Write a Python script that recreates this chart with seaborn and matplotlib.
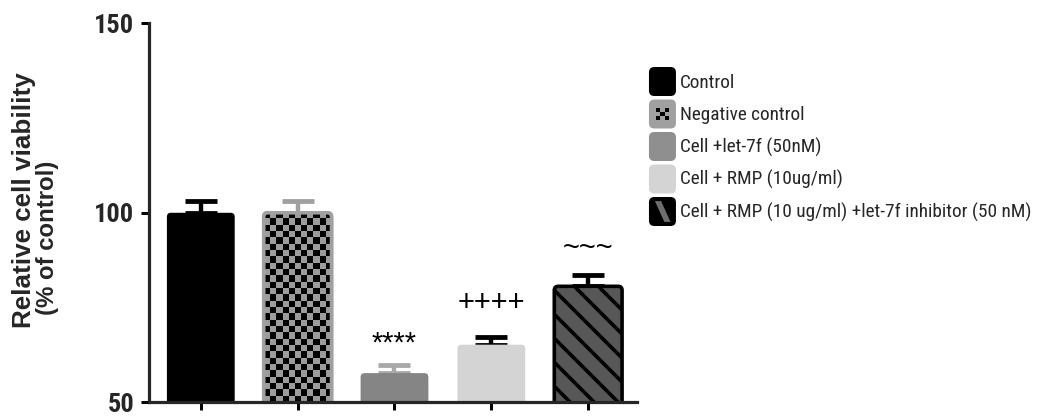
import numpy as np
import pandas as pd
import matplotlib
matplotlib.use("Agg")
import matplotlib.pyplot as plt
import seaborn as sns
from matplotlib import font_manager as fm
from matplotlib.font_manager import FontProperties
from matplotlib.patches import FancyBboxPatch, Rectangle, Polygon
from matplotlib.colors import ListedColormap
from matplotlib.legend_handler import HandlerBase

# ---- data -------------------------------------------------------------
groups = [
    "Control",
    "Negative control",
    "Cell +let-7f (50nM)",
    "Cell + RMP (10ug/ml)",
    "Cell + RMP (10 ug/ml) +let-7f inhibitor (50 nM)",
]
viability = [100.0, 100.0, 57.7, 65.2, 80.6]   # mean, % of control
sem = [3.2, 3.2, 2.1, 2.1, 3.0]                # upper error
marks = ["", "", "****", "++++", "~~~"]        # significance symbols
y_ticks = [50, 100, 150]

# ---- styling ----------------------------------------------------------
fill_colors = ["#000000", "#a0a0a0", "#858585", "#d4d4d4", "#575757"]
edge_colors = ["none", "#a0a0a0", "none", "none", "#000000"]
err_colors = ["#000000", "#a0a0a0", "#a9a9a9", "#000000", "#000000"]
mark_gap = [0, 0, 3.6, 6.9, 5.1]


def pick_font(*names):
    have = {f.name for f in fm.fontManager.ttflist}
    for n in names:
        if n in have:
            return n
    return "DejaVu Sans"


def narrow_props(regular):
    """A condensed sans face if one is installed, else the regular one."""
    entries = fm.fontManager.ttflist
    names = {e.name for e in entries}
    for n in ("Liberation Sans Narrow", "Arial Narrow", "Roboto Condensed",
              "Open Sans Condensed", "Noto Sans Condensed",
              "DejaVu Sans Condensed"):
        if n in names:
            return {"family": n}
    for fam in ("Noto Sans", "Open Sans", "Roboto", "DejaVu Sans"):
        for e in entries:
            if e.name == fam and e.stretch in ("condensed", "semi-condensed"):
                return {"family": fam, "stretch": e.stretch}
    return {"family": regular}


sns.set_style("ticks")
REG = pick_font("Liberation Sans", "Arial", "DejaVu Sans")
NARROW = narrow_props(REG)
plt.rcParams["font.family"] = [REG, "DejaVu Sans"]
plt.rcParams["hatch.linewidth"] = 1.8

DPI = 144
fig = plt.figure(figsize=(1038 / DPI, 418 / DPI), dpi=DPI)
renderer = fig.canvas.get_renderer()


def fit_size(text, target_px, max_pt, **props):
    """Largest size (<= max_pt) at which text is at most target_px wide."""
    t = fig.text(0, 0, text, fontproperties=FontProperties(size=10, **props))
    w = t.get_window_extent(renderer).width
    t.remove()
    return min(max_pt, 10 * target_px / w)


legend_pt = fit_size(groups[-1], 352, 10.5, **NARROW)
tick_pt = fit_size("150", 40, 14, weight="bold", **NARROW)

ax = fig.add_axes([0.144, 0.0376, 0.4693, 0.9067])

df = pd.DataFrame({"group": groups, "viability": viability})
sns.barplot(data=df, x="group", y="viability", hue="group",
            palette=fill_colors, width=0.7, saturation=1,
            errorbar=None, legend=False, ax=ax)

ax.set_ylim(50, 150)
ax.set_xlim(-0.53, 4.5)

# pixel scale of each data unit, used for round corners and the checker cells
p0 = ax.transData.transform((0, 50))
p1 = ax.transData.transform((1, 51))
ppx, ppy = p1[0] - p0[0], p1[1] - p0[1]
aspect = ppx / ppy
r_x = 4.0 / ppx

bar_rects = list(ax.patches)
swatches = []
for i, rect in enumerate(bar_rects):
    x, y, w, h = rect.get_x(), rect.get_y(), rect.get_width(), rect.get_height()
    rect.remove()
    ec = edge_colors[i]
    lw = 1.8 if ec != "none" else 0
    patch = FancyBboxPatch((x, y), w, h,
                           boxstyle=f"round,pad=0,rounding_size={r_x}",
                           mutation_aspect=aspect,
                           facecolor=fill_colors[i], edgecolor=ec,
                           linewidth=lw, zorder=2,
                           hatch="\\\\" if i == 4 else None)
    ax.add_patch(patch)
    swatches.append(patch)
    if i == 1:
        lo, hi = ax.get_ylim()[0], y + h
        cell = 6.3
        ncol = max(1, int(round(w * ppx / cell)))
        nrow = max(1, int(round((hi - lo) * ppy / cell)))
        grid = np.add.outer(np.arange(nrow), np.arange(ncol)) % 2
        img = ax.imshow(grid, extent=(x, x + w, lo, hi), origin="upper",
                        cmap=ListedColormap(["#000000", "#9c9c9c"]),
                        interpolation="nearest", aspect="auto", zorder=2.2)
        img.set_clip_path(patch)
        rim = FancyBboxPatch((x, y), w, h,
                             boxstyle=f"round,pad=0,rounding_size={r_x}",
                             mutation_aspect=aspect, facecolor="none",
                             edgecolor=ec, linewidth=lw, zorder=2.4)
        ax.add_patch(rim)

# upper error bars
for i, (m, e) in enumerate(zip(viability, sem)):
    ax.errorbar(i, m, yerr=[[0], [e]], fmt="none", ecolor=err_colors[i],
                elinewidth=2.2, capsize=8, capthick=2.4, zorder=1.5)

# significance symbols
for i, (m, e, s) in enumerate(zip(viability, sem, marks)):
    if s:
        ax.text(i, m + e + mark_gap[i], s, ha="center", va="baseline",
                fontsize=14.5, family=REG, color="black")

ax.set_ylim(50, 150)
ax.set_xlim(-0.53, 4.5)
ax.set_xticks(range(len(groups)))
ax.set_xticklabels([""] * len(groups))
ax.set_yticks(y_ticks)
ax.set_xlabel("")
ax.set_ylabel("")
sns.despine(ax=ax)
for side in ("left", "bottom"):
    ax.spines[side].set_linewidth(1.6)
ax.tick_params(axis="both", direction="out", width=1.5, length=4,
               pad=3.5, color="black")
for lab in ax.get_yticklabels():
    lab.set_fontproperties(FontProperties(size=tick_pt, weight="bold", **NARROW))

fig.text(0.0231, 0.5215, "Relative cell viability", rotation=90,
         ha="center", va="center", fontsize=13, fontweight="bold", family=REG)
fig.text(0.0453, 0.4306, "(% of control)", rotation=90,
         ha="center", va="center", fontsize=12, fontweight="bold", family=REG)


class Swatch(HandlerBase):
    def __init__(self, face, kind=None):
        super().__init__()
        self.face = face
        self.kind = kind

    def create_artists(self, legend, orig_handle, xdescent, ydescent,
                       width, height, fontsize, trans):
        x0, y0 = -xdescent, -ydescent
        r = 0.2 * min(width, height)
        arts = [FancyBboxPatch((x0, y0), width, height,
                               boxstyle=f"round,pad=0,rounding_size={r}",
                               facecolor=self.face, edgecolor="none",
                               transform=trans)]
        if self.kind == "checker":
            c = 0.16 * width
            cx = x0 + width / 2 - 1.5 * c
            cy = y0 + height / 2 - 1.5 * c
            for a in range(3):
                for b in range(3):
                    if (a + b) % 2 == 0:
                        arts.append(Rectangle((cx + a * c, cy + b * c), c, c,
                                              facecolor="black",
                                              edgecolor="none",
                                              transform=trans))
        elif self.kind == "stripe":
            pts = [(0.22, 0.86), (0.45, 0.86), (0.80, 0.14), (0.57, 0.14)]
            arts.append(Polygon([(x0 + px * width, y0 + py * height)
                                 for px, py in pts],
                                closed=True, facecolor="#6e6e6e",
                                edgecolor="none", transform=trans))
        return arts


kinds = [None, "checker", None, None, "stripe"]
legend_faces = ["#000000", "#a0a0a0", "#8f8f8f", "#d4d4d4", "#000000"]
handler_map = {p: Swatch(legend_faces[i], kinds[i]) for i, p in enumerate(swatches)}
fs_px = legend_pt * DPI / 72
# swatch box height = fs*(0.65*hh + 0.245) in the legend layout
swatch_h, swatch_w = 29.0, 27.0
hh = (swatch_h / fs_px - 0.245) / 0.65
ax.legend(handles=swatches, labels=groups, handler_map=handler_map,
          loc="upper left", bbox_to_anchor=(0.6252, 0.8397),
          bbox_transform=fig.transFigure, frameon=False,
          borderpad=0, borderaxespad=0,
          handlelength=swatch_w / fs_px, handleheight=hh,
          handletextpad=4 / fs_px, labelspacing=3.5 / fs_px,
          prop=FontProperties(size=legend_pt, **NARROW))

fig.savefig("out.png", dpi=DPI)
